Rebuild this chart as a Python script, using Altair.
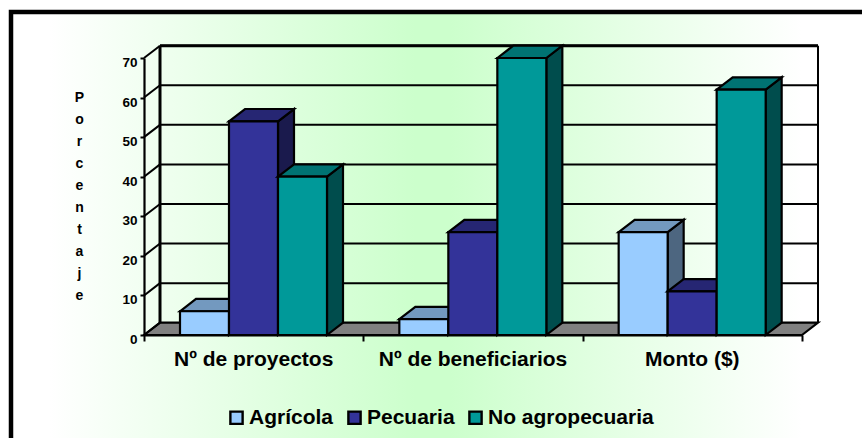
import altair as alt
import pandas as pd

# Percentages per category and activity type
categories = ["Nº de proyectos", "Nº de beneficiarios", "Monto ($)"]
agricola = [6, 4, 26]
pecuaria = [54, 26, 11]
no_agropecuaria = [40, 70, 62]
series_names = ["Agrícola", "Pecuaria", "No agropecuaria"]
tick_values = [0, 10, 20, 30, 40, 50, 60, 70]
y_title = ["P", "o", "r", "c", "e", "n", "t", "a", "j", "e"]

# Front colour of each series, then the darker top and side faces
front = ["#99CCFF", "#333399", "#009999"]
top = ["#7399BF", "#262673", "#007373"]
side = ["#4D6680", "#1A1A4D", "#004D4D"]

PLOT_W, PLOT_H = 658, 277
DEPTH_X = 16 / (PLOT_W / 3)      # oblique depth, in category units
DEPTH_Y = 12.3 / (PLOT_H / 70)   # oblique depth, in percentage points
BAR_W = 49 / (PLOT_W / 3)
BAR_START = 36 / (PLOT_W / 3)
FONT = "Liberation Sans"

x_scale = alt.Scale(domain=[0, 3], nice=False, zero=False)
y_scale = alt.Scale(domain=[0, 70], nice=False, zero=False)

x_axis = alt.Axis(
    values=[0, 1, 2, 3], labels=False, title=None, tickSize=6, tickWidth=2, tickColor="black",
    domainColor="black", domainWidth=2.2, grid=False, zindex=1,
)
y_axis = alt.Axis(
    values=tick_values, tickSize=4, tickWidth=2, tickColor="black",
    domainColor="black", domainWidth=2.2, grid=False, zindex=1,
    labelFont=FONT, labelFontWeight="bold", labelFontSize=13.5, labelColor="black",
    labelPadding=3, labelOffset=4.5, labelFlush=False, labelOverlap=False,
    title=y_title, titleFont=FONT, titleFontWeight="bold", titleFontSize=14,
    titleColor="black", titleAngle=0, titleLineHeight=22.1,
    titleX=-65, titleY=32, titleAlign="center", titleBaseline="top",
)


def X(f="x"):
    return alt.X(f"{f}:Q", scale=x_scale, axis=x_axis)


def Y(f="y"):
    return alt.Y(f"{f}:Q", scale=y_scale, axis=y_axis)


def polygon_rows(face, corners):
    return [dict(face=face, o=n, x=px, y=py) for n, (px, py) in enumerate(corners)]


def polygons(rows, fill):
    """Closed outline filled with one colour, one shape per face id."""
    return alt.Chart(pd.DataFrame(rows)).mark_line(
        fill=fill, stroke="black", strokeWidth=2.2, strokeJoin="miter", interpolate="linear-closed"
    ).encode(x=X(), y=Y(), detail="face:N", order="o:Q")


def side_faces(values, s):
    rows = []
    for c, v in enumerate(values):
        x1 = c + BAR_START + (s + 1) * BAR_W
        rows += polygon_rows(f"{c}", [
            (x1, 0), (x1 + DEPTH_X, DEPTH_Y), (x1 + DEPTH_X, v + DEPTH_Y), (x1, v),
        ])
    return rows


def top_faces(values, s):
    rows = []
    for c, v in enumerate(values):
        x0 = c + BAR_START + s * BAR_W
        x1 = x0 + BAR_W
        rows += polygon_rows(f"{c}", [
            (x0, v), (x0 + DEPTH_X, v + DEPTH_Y), (x1 + DEPTH_X, v + DEPTH_Y), (x1, v),
        ])
    return rows


# Panel background with its heavy frame; it runs past the right and lower edges
LEFT_EDGE = -133 / (PLOT_W / 3)
panel = pd.DataFrame([dict(x=LEFT_EDGE, x2=3.4, y=-30, y2=81.6)])
background = alt.Chart(panel).mark_rect(
    stroke="black",
    strokeWidth=4.5,
    fill=alt.Gradient(
        gradient="linear", x1=0, x2=1, y1=0, y2=0,
        stops=[
            alt.GradientStop(color="#FFFFFF", offset=0.044),
            alt.GradientStop(color="#CCFFCC", offset=0.46),
            alt.GradientStop(color="#CCFFCC", offset=0.50),
            alt.GradientStop(color="#FFFFFF", offset=0.90),
        ],
    ),
).encode(x=X(), x2="x2:Q", y=Y(), y2="y2:Q")

# Floor of the 3D box
floor = polygons(
    polygon_rows("floor", [(0, 0), (DEPTH_X, DEPTH_Y), (3 + DEPTH_X, DEPTH_Y), (3, 0)]),
    "#808080",
)

# Back-wall gridlines and the slanted links to the front axis
grid_df = pd.DataFrame([dict(x=DEPTH_X, x2=3 + DEPTH_X, y=v + DEPTH_Y) for v in tick_values[1:]])
grid = alt.Chart(grid_df).mark_rule(color="black", strokeWidth=2).encode(x=X(), x2="x2:Q", y=Y())

wall_df = pd.DataFrame([
    dict(x=DEPTH_X, y=DEPTH_Y, y2=70 + DEPTH_Y, w=3),
    dict(x=3 + DEPTH_X, y=DEPTH_Y, y2=70 + DEPTH_Y, w=2),
])
wall = alt.Chart(wall_df).mark_rule(color="black").encode(
    x=X(), y=Y(), y2="y2:Q", strokeWidth=alt.StrokeWidth("w:Q", scale=None)
)
top_edge = alt.Chart(pd.DataFrame([dict(x=DEPTH_X, x2=3 + DEPTH_X, y=70 + DEPTH_Y)])).mark_rule(
    color="black", strokeWidth=3
).encode(x=X(), x2="x2:Q", y=Y())

link_df = pd.DataFrame(
    [dict(tick=v, o=0, x=0, y=v) for v in tick_values]
    + [dict(tick=v, o=1, x=DEPTH_X, y=v + DEPTH_Y) for v in tick_values]
)
links = alt.Chart(link_df).mark_line(color="black", strokeWidth=2).encode(
    x=X(), y=Y(), detail="tick:N", order="o:Q"
)

# Three layers per series so nearer bars overlap the faces behind them
all_values = [agricola, pecuaria, no_agropecuaria]
bar_layers = []
for s, (name, values) in enumerate(zip(series_names, all_values)):
    bar_layers.append(polygons(side_faces(values, s), side[s]))
    bar_layers.append(polygons(top_faces(values, s), top[s]))
    front_df = pd.DataFrame([
        dict(serie=name, x=c + BAR_START + s * BAR_W, x2=c + BAR_START + (s + 1) * BAR_W, y=0, y2=v)
        for c, v in enumerate(values)
    ])
    bar_layers.append(
        alt.Chart(front_df).mark_rect(stroke="black", strokeWidth=2.2).encode(
            x=X(), x2="x2:Q", y=Y(), y2="y2:Q",
            color=alt.Color(
                "serie:N",
                scale=alt.Scale(domain=series_names, range=front),
                legend=alt.Legend(
                    title=None, orient="none", legendX=82, legendY=349, direction="horizontal",
                    symbolType="square", symbolSize=150, symbolStrokeColor="black",
                    symbolStrokeWidth=2.4, symbolOpacity=1,
                    labelFont=FONT, labelFontWeight="bold", labelFontSize=21, labelColor="black",
                    labelOffset=2, columnPadding=9, labelLimit=300,
                ),
            ),
        )
    )

# Category names centred under each group
cat_df = pd.DataFrame([dict(label=n, x=i + 0.5, y=0) for i, n in enumerate(categories)])
cat_labels = alt.Chart(cat_df).mark_text(
    font=FONT, fontWeight="bold", fontSize=21, color="black", dy=25, baseline="middle", align="center"
).encode(x=X(), y=Y(), text="label:N")

chart = alt.layer(
    background, floor, grid, links, wall, top_edge, *bar_layers, cat_labels
).properties(
    width=PLOT_W,
    height=PLOT_H,
    padding={"left": 144, "top": 58, "right": 60, "bottom": 103},
    autosize=alt.AutoSizeParams(type="none"),
    background="white",
).configure_view(stroke=None, clip=False)

chart.save("out.html", embed_options={"renderer": "svg", "actions": False})
